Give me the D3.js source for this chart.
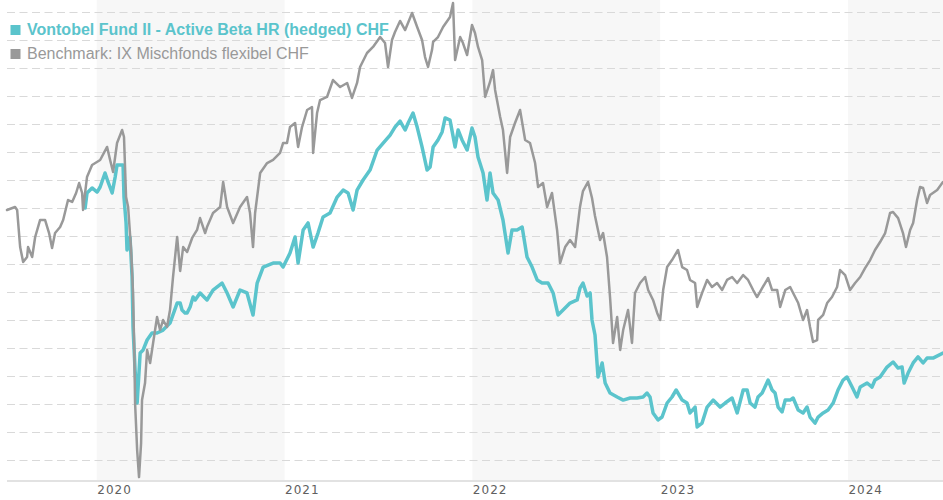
<!DOCTYPE html>
<html>
<head>
<meta charset="utf-8">
<script src="https://cdn.jsdelivr.net/npm/d3@7"></script>
<style>
  html, body { margin: 0; padding: 0; background: #fff; }
  svg { display: block; }
</style>
</head>
<body>
<svg id="chart" width="943" height="500"></svg>
<script>
// ---- data (indexed performance) ----
const seriesNames = ["Vontobel Fund II - Active Beta HR (hedged) CHF", "Benchmark: IX Mischfonds flexibel CHF"];
const yearTicks = [2020, 2021, 2022, 2023, 2024];
const shadedYears = [2020, 2022, 2024];
const gridValues = [82, 84, 86, 88, 90, 92, 94, 96, 98, 100, 102, 104, 106, 108, 110, 112, 114];

// [decimal year, index value]
const fund = [
[2019.938,99.98],[2019.948,101.05],[2019.975,101.41],[2020.002,101.12],[2020.018,101.48],[2020.044,102.48],
[2020.060,101.84],[2020.082,101.05],[2020.098,102.19],[2020.108,103.05],[2020.140,103.05],[2020.145,100.76],
[2020.156,98.91],[2020.161,96.98],[2020.177,97.91],[2020.188,95.05],[2020.193,91.48],[2020.204,88.41],
[2020.215,86.05],[2020.231,89.62],[2020.247,89.84],[2020.268,90.55],[2020.294,91.05],[2020.321,91.05],
[2020.353,91.26],[2020.390,91.76],[2020.428,93.19],[2020.444,93.19],[2020.454,92.69],[2020.470,92.48],
[2020.481,92.48],[2020.497,92.91],[2020.513,93.62],[2020.524,93.41],[2020.550,93.91],[2020.587,93.41],
[2020.619,94.12],[2020.667,94.62],[2020.694,93.91],[2020.726,92.91],[2020.763,94.12],[2020.800,93.91],
[2020.832,92.34],[2020.854,94.62],[2020.886,95.76],[2020.939,96.05],[2020.976,96.05],[2020.992,95.76],
[2021.029,96.76],[2021.056,97.91],[2021.072,96.05],[2021.099,98.41],[2021.125,98.91],[2021.152,97.19],
[2021.178,98.19],[2021.205,99.34],[2021.242,99.62],[2021.280,100.76],[2021.312,101.26],[2021.338,101.05],
[2021.365,99.84],[2021.386,101.26],[2021.418,101.98],[2021.455,102.69],[2021.493,104.12],[2021.525,104.62],
[2021.562,105.19],[2021.588,105.76],[2021.615,106.19],[2021.642,105.55],[2021.658,106.05],[2021.684,106.76],
[2021.706,105.76],[2021.732,104.34],[2021.759,102.69],[2021.775,102.91],[2021.791,104.34],[2021.817,104.84],
[2021.839,105.41],[2021.855,106.41],[2021.881,106.26],[2021.908,104.34],[2021.924,105.55],[2021.945,104.84],
[2021.972,104.12],[2021.998,105.69],[2022.014,105.05],[2022.030,103.62],[2022.057,102.48],[2022.078,100.55],
[2022.094,102.48],[2022.110,101.05],[2022.137,100.55],[2022.163,99.12],[2022.190,96.76],[2022.211,98.41],
[2022.238,98.41],[2022.265,98.62],[2022.291,96.48],[2022.318,95.76],[2022.345,94.84],[2022.371,94.62],
[2022.403,94.62],[2022.430,93.91],[2022.456,92.34],[2022.483,92.69],[2022.520,93.19],[2022.558,93.41],
[2022.573,94.26],[2022.589,94.62],[2022.611,93.69],[2022.627,93.91],[2022.637,91.98],[2022.653,90.91],
[2022.669,87.91],[2022.691,88.91],[2022.707,87.48],[2022.733,86.76],[2022.771,86.48],[2022.803,86.26],
[2022.840,86.41],[2022.877,86.41],[2022.909,86.48],[2022.930,86.76],[2022.946,86.48],[2022.962,85.34],
[2022.989,84.84],[2023.010,85.05],[2023.037,86.05],[2023.063,86.48],[2023.085,86.98],[2023.117,86.26],
[2023.143,86.05],[2023.159,85.34],[2023.186,85.76],[2023.197,84.34],[2023.223,84.62],[2023.250,85.76],
[2023.282,86.26],[2023.319,85.76],[2023.346,86.05],[2023.383,86.41],[2023.410,85.34],[2023.442,86.98],
[2023.463,86.98],[2023.479,86.05],[2023.505,85.76],[2023.521,86.48],[2023.543,86.76],[2023.575,87.69],
[2023.596,86.98],[2023.612,86.76],[2023.628,85.76],[2023.649,85.41],[2023.666,86.26],[2023.692,86.26],
[2023.708,86.41],[2023.735,85.55],[2023.761,85.34],[2023.782,85.76],[2023.798,85.05],[2023.825,84.62],
[2023.841,85.05],[2023.868,85.34],[2023.894,85.55],[2023.921,86.05],[2023.947,86.98],[2023.974,87.69],
[2023.995,87.91],[2024.022,87.19],[2024.048,86.48],[2024.065,87.19],[2024.102,87.48],[2024.128,87.19],
[2024.144,87.69],[2024.171,87.91],[2024.208,88.62],[2024.240,88.98],[2024.267,88.55],[2024.288,88.62],
[2024.299,87.48],[2024.320,88.19],[2024.347,88.91],[2024.373,89.34],[2024.400,88.91],[2024.421,89.26],
[2024.453,89.26],[2024.506,89.62]
];

const benchmark = [
[2019.522,99.84],[2019.565,100.05],[2019.576,99.84],[2019.592,97.19],[2019.608,96.12],[2019.629,96.48],
[2019.634,97.19],[2019.656,96.48],[2019.672,97.91],[2019.698,99.12],[2019.725,99.12],[2019.746,98.19],
[2019.762,97.12],[2019.778,98.19],[2019.805,98.62],[2019.821,99.12],[2019.847,100.55],[2019.869,100.41],
[2019.890,101.05],[2019.906,101.76],[2019.922,101.05],[2019.927,99.84],[2019.948,102.19],[2019.975,103.05],
[2020.018,103.41],[2020.055,104.34],[2020.071,103.41],[2020.087,102.55],[2020.108,104.62],[2020.135,105.55],
[2020.145,105.05],[2020.156,100.76],[2020.167,100.05],[2020.183,96.98],[2020.193,93.91],[2020.199,90.34],
[2020.204,86.05],[2020.215,82.69],[2020.225,80.76],[2020.236,83.19],[2020.241,86.26],[2020.257,87.48],
[2020.268,89.84],[2020.284,88.91],[2020.300,90.34],[2020.321,92.19],[2020.337,91.26],[2020.353,91.98],
[2020.374,91.48],[2020.390,92.69],[2020.406,95.05],[2020.428,97.91],[2020.444,95.48],[2020.460,97.19],
[2020.481,96.84],[2020.508,97.84],[2020.534,98.41],[2020.550,99.26],[2020.577,98.19],[2020.587,98.62],
[2020.619,99.62],[2020.657,100.05],[2020.673,101.84],[2020.694,100.05],[2020.726,98.91],[2020.763,100.05],
[2020.800,100.76],[2020.816,99.62],[2020.832,97.19],[2020.843,99.62],[2020.870,102.48],[2020.907,103.19],
[2020.939,103.41],[2020.976,103.91],[2020.992,104.62],[2021.013,104.62],[2021.029,105.76],[2021.056,106.05],
[2021.072,104.34],[2021.093,105.76],[2021.120,106.98],[2021.146,107.19],[2021.152,103.91],[2021.173,106.76],
[2021.189,107.69],[2021.226,107.91],[2021.258,109.12],[2021.296,108.62],[2021.333,108.91],[2021.359,107.84],
[2021.386,108.91],[2021.402,110.05],[2021.439,111.05],[2021.471,111.48],[2021.509,112.19],[2021.535,111.76],
[2021.551,110.05],[2021.572,111.98],[2021.588,112.55],[2021.615,113.34],[2021.642,112.69],[2021.679,113.91],
[2021.706,112.91],[2021.732,111.98],[2021.748,110.76],[2021.764,110.05],[2021.785,111.26],[2021.791,111.84],
[2021.817,112.19],[2021.844,112.91],[2021.881,113.62],[2021.897,114.62],[2021.908,110.55],[2021.935,112.19],
[2021.950,111.76],[2021.972,110.91],[2021.998,113.05],[2022.014,112.48],[2022.030,111.48],[2022.052,110.55],
[2022.068,107.91],[2022.094,108.98],[2022.110,109.84],[2022.121,108.41],[2022.148,106.48],[2022.163,105.55],
[2022.185,102.48],[2022.201,105.05],[2022.227,106.05],[2022.254,106.98],[2022.281,104.84],[2022.307,104.62],
[2022.334,103.19],[2022.350,101.48],[2022.376,101.76],[2022.398,100.05],[2022.424,101.05],[2022.451,98.41],
[2022.467,96.05],[2022.494,97.19],[2022.520,97.69],[2022.547,97.19],[2022.573,100.05],[2022.589,101.19],
[2022.616,101.84],[2022.637,100.69],[2022.653,99.41],[2022.680,97.69],[2022.696,98.19],[2022.717,96.48],
[2022.733,93.62],[2022.749,90.34],[2022.771,92.19],[2022.787,89.84],[2022.803,91.26],[2022.829,92.69],
[2022.850,90.34],[2022.866,93.91],[2022.893,94.62],[2022.920,95.05],[2022.936,94.12],[2022.962,93.41],
[2022.984,92.48],[2023.000,91.98],[2023.016,94.12],[2023.037,95.76],[2023.063,96.26],[2023.095,96.98],
[2023.117,95.76],[2023.143,95.55],[2023.159,94.84],[2023.186,94.62],[2023.197,92.91],[2023.223,93.91],
[2023.250,94.84],[2023.276,94.34],[2023.303,94.62],[2023.330,94.12],[2023.356,94.84],[2023.383,95.05],
[2023.410,94.62],[2023.442,95.19],[2023.468,94.84],[2023.495,94.12],[2023.516,93.62],[2023.543,94.26],
[2023.559,94.62],[2023.575,94.98],[2023.596,94.12],[2023.623,94.12],[2023.639,92.91],[2023.666,94.12],
[2023.692,94.34],[2023.708,93.91],[2023.735,93.19],[2023.761,91.98],[2023.782,92.69],[2023.798,91.48],
[2023.814,90.41],[2023.836,90.55],[2023.841,91.98],[2023.868,92.34],[2023.889,93.19],[2023.915,93.62],
[2023.942,94.34],[2023.958,95.55],[2023.985,95.19],[2024.011,94.12],[2024.038,94.62],[2024.065,95.05],
[2024.091,95.69],[2024.118,96.26],[2024.144,96.98],[2024.171,97.55],[2024.198,98.19],[2024.224,99.62],
[2024.240,99.69],[2024.267,99.26],[2024.293,98.19],[2024.309,97.19],[2024.331,98.41],[2024.347,98.91],
[2024.368,100.55],[2024.384,101.48],[2024.400,101.41],[2024.421,100.34],[2024.437,100.91],[2024.475,101.26],
[2024.506,101.84]
];

// ---- layout ----
const plotLeft = 7, plotRight = 943, plotTop = 0, plotBottom = 481;
const colors = ["#5bc4cc", "#999999"];

const svg = d3.select("#chart");
const x = d3.scaleLinear().domain([2019.522, 2024.506]).range([plotLeft, plotRight]);
const y = d3.scaleLinear().domain([80.48, 114.836]).range([plotBottom, plotTop]);

// alternate year bands
svg.append("g").selectAll("rect").data(shadedYears).join("rect")
  .attr("x", d => x(d))
  .attr("y", plotTop)
  .attr("width", d => Math.min(x(d + 1), plotRight) - x(d))
  .attr("height", plotBottom - plotTop)
  .attr("fill", "#f7f7f7");

// horizontal dashed gridlines
svg.append("g").selectAll("line").data(gridValues).join("line")
  .attr("x1", plotLeft).attr("x2", plotRight)
  .attr("y1", d => Math.round(y(d)) + 0.5).attr("y2", d => Math.round(y(d)) + 0.5)
  .attr("stroke", "#d9d9d9").attr("stroke-width", 1)
  .attr("stroke-dasharray", "8,4.5");

// x axis line
svg.append("line")
  .attr("x1", plotLeft).attr("x2", plotRight)
  .attr("y1", plotBottom).attr("y2", plotBottom)
  .attr("stroke", "#e2e2e2").attr("stroke-width", 2);

// year labels (left aligned at year start)
svg.append("g").selectAll("text").data(yearTicks).join("text")
  .attr("x", d => x(d) + 0.5)
  .attr("y", 493.5)
  .attr("font-family", "DejaVu Sans, Verdana, sans-serif")
  .attr("font-size", 12)
  .attr("letter-spacing", 1)
  .attr("fill", "#606060")
  .text(d => d);

// lines
const line = d3.line().x(d => x(d[0])).y(d => y(d[1])).curve(d3.curveLinear);
svg.append("path").datum(fund)
  .attr("d", line).attr("fill", "none")
  .attr("stroke", colors[0]).attr("stroke-width", 3.5)
  .attr("stroke-linejoin", "round").attr("stroke-linecap", "round");
svg.append("path").datum(benchmark)
  .attr("d", line).attr("fill", "none")
  .attr("stroke", colors[1]).attr("stroke-width", 2.5)
  .attr("stroke-linejoin", "round").attr("stroke-linecap", "round");

// legend
const legend = svg.append("g");
const lg = legend.selectAll("g").data(seriesNames).join("g")
  .attr("transform", (d, i) => `translate(0, ${i * 24})`);
lg.append("rect")
  .attr("x", 10.5).attr("y", 25).attr("width", 10).attr("height", 10)
  .attr("fill", (d, i) => colors[i]);
lg.append("text")
  .attr("x", 27).attr("y", 34.5)
  .attr("font-family", "Liberation Sans, Arial, sans-serif")
  .attr("font-size", 16)
  .attr("font-weight", (d, i) => i === 0 ? "bold" : "normal")
  .attr("fill", (d, i) => colors[i])
  .text(d => d);
</script>
</body>
</html>
